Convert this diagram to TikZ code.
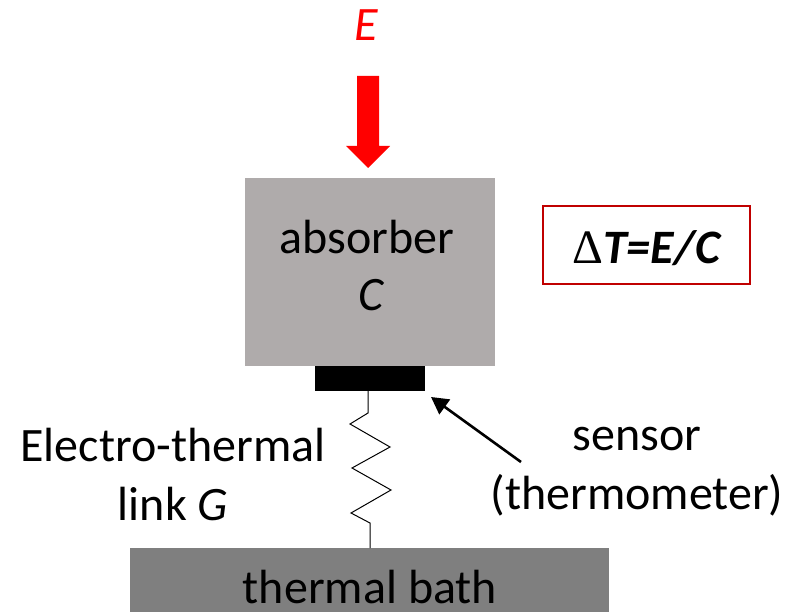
\documentclass[tikz,border=0pt]{standalone}
\usepackage{fontspec}
\setmainfont{Carlito}
\newfontfamily\deltafont{Liberation Serif}
\usetikzlibrary{arrows.meta}
\tikzset{
  x=1pt,y=-1pt,
  lbl/.style={font=\fontsize{48}{59}\selectfont,inner sep=0pt,align=center,text=black},
  wire/.style={draw=black,line width=1pt,line join=miter},
  pointer/.style={draw=black,line width=2.6pt,-{Triangle[length=17pt,width=18pt]}}
}
\begin{document}
\begin{tikzpicture}
\useasboundingbox (0,0) rectangle (797,612);
\fill[red] (357,76) -- (379,76) -- (379,146) -- (390,146) -- (368,168) -- (346,146) -- (357,146) -- cycle;
\node[lbl,text=red] (E) at (366,25) {\itshape E};
\path[fill={rgb,255:red,175;green,171;blue,171}] (245,178) rectangle (495,366);
\node[lbl] (absorber) at (367,237) {absorber};
\node[lbl] (C) at (371,295) {\itshape C};
\path[fill=black] (315,366) rectangle (425,391);
\coordinate (sensorbottom) at (368,391);
\path[fill={rgb,255:red,127;green,127;blue,127}] (130,548) rectangle (609,612);
\coordinate (bathtop) at (370,548);
\node[lbl] (bath) at (370,587) {thermal bath};
\draw[wire] (sensorbottom) -- (368,413) -- (350,424) -- (390,447) -- (352,468) -- (391,490) -- (351,513) -- (370,523) -- (bathtop);
\node[draw={rgb,255:red,192;green,0;blue,0},line width=1.5pt,minimum width=207pt,minimum height=78pt,inner sep=0pt] (box) at (646.5,245) {};
\node[lbl,font=\fontsize{48}{48}\selectfont\bfseries] (eq) at (647,248) {{\deltafont\mdseries\upshape Δ}\textit{T=E/C}};
\node[lbl] (link) at (173,474) {Electro-thermal\\link \textit{G}};
\node[lbl] (sensor) at (637,472) {sensor\\(thermometer)};
\coordinate (ptail) at (521,462);
\coordinate (ptip) at (431,397);
\draw[pointer] (ptail) -- (ptip);
\end{tikzpicture}
\end{document}
